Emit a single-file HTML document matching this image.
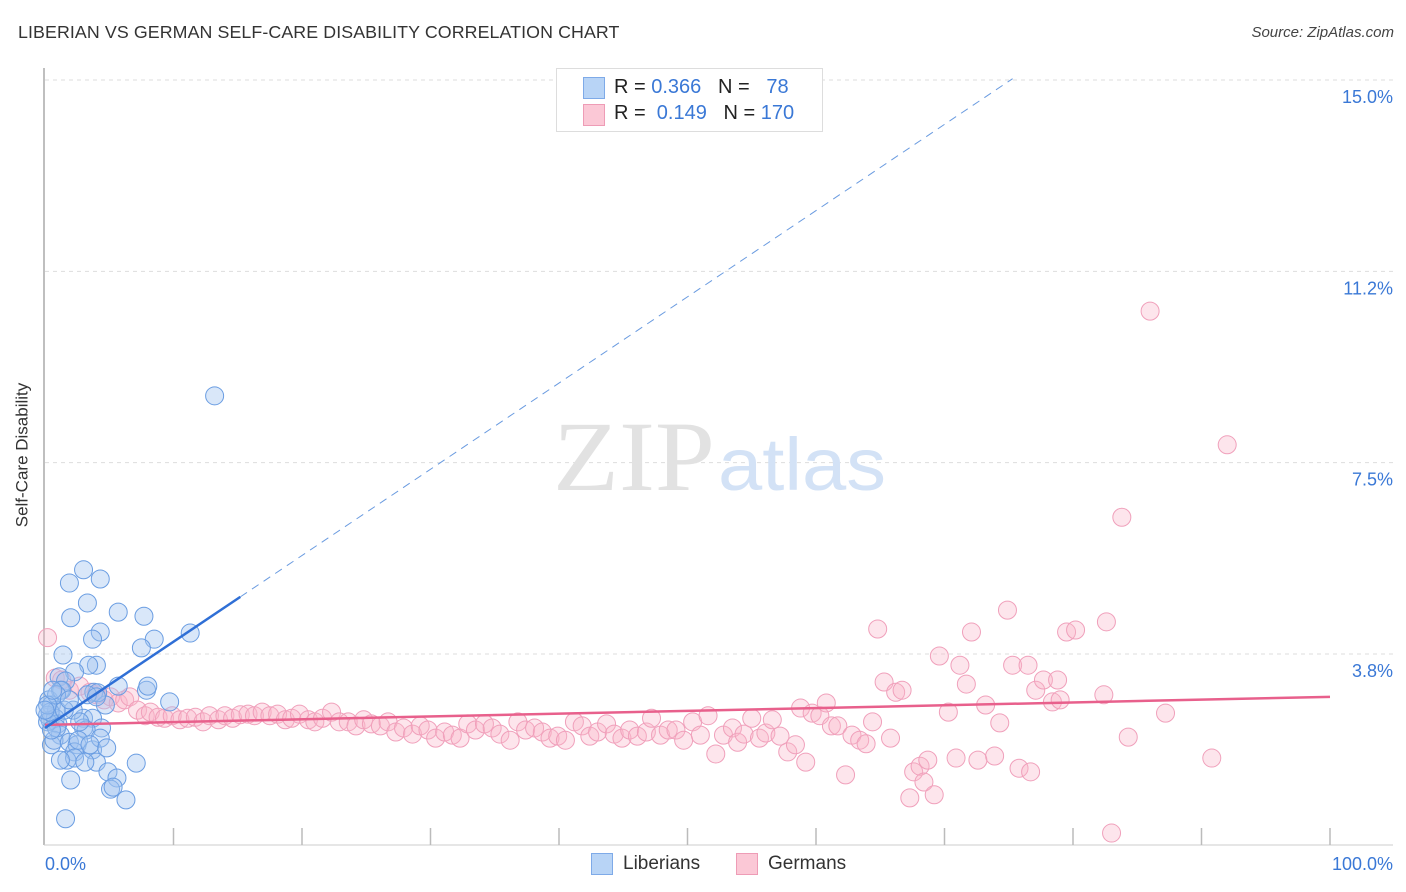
<!DOCTYPE html>
<html><head><meta charset="utf-8"><style>
body{margin:0;background:#fff;font-family:"Liberation Sans",sans-serif;}
#wrap{position:relative;width:1406px;height:892px;overflow:hidden;}
.t{position:absolute;white-space:nowrap;}
</style></head><body>
<div id="wrap">
<div class="t" style="left:18px;top:22px;font-size:17.8px;color:#333;letter-spacing:0.1px">LIBERIAN VS GERMAN SELF-CARE DISABILITY CORRELATION CHART</div>
<div class="t" style="right:12px;top:24px;font-size:15px;color:#444;font-style:italic">Source: ZipAtlas.com</div>
<div class="t" style="left:-50px;top:445px;font-size:17px;color:#333;transform:rotate(-90deg)">Self-Care Disability</div>
<svg id="chart" width="1406" height="892" style="position:absolute;left:0;top:0"></svg>
<div style="position:absolute;left:556px;top:68px;width:265px;height:62px;border:1px solid #ddd;background:#fff;font-size:20px;color:#222">
 <div style="position:absolute;left:26px;top:8px;width:20px;height:20px;background:#b8d4f6;border:1px solid #7eaae8"></div>
 <div class="t" style="left:57px;top:7px">R = <span style="color:#3a78d6">0.366</span>&nbsp;&nbsp;&nbsp;N = &nbsp;&nbsp;<span style="color:#3a78d6">78</span></div>
 <div style="position:absolute;left:26px;top:35px;width:20px;height:20px;background:#fbc8d6;border:1px solid #ee9cb6"></div>
 <div class="t" style="left:57px;top:33px">R = &nbsp;<span style="color:#3a78d6">0.149</span>&nbsp;&nbsp;&nbsp;N = <span style="color:#3a78d6">170</span></div>
</div>
<div>
 <div style="position:absolute;left:591px;top:853px;width:20px;height:20px;background:#b8d4f6;border:1px solid #7eaae8"></div>
 <div class="t" style="left:623px;top:853px;font-size:19px;color:#333">Liberians</div>
 <div style="position:absolute;left:736px;top:853px;width:20px;height:20px;background:#fbc8d6;border:1px solid #ee9cb6"></div>
 <div class="t" style="left:768px;top:853px;font-size:19px;color:#333">Germans</div>
</div>
</div>
<script>
const yTicks=[3.75,7.5,11.25,15];
const yTickLabels=["3.8%","7.5%","11.2%","15.0%"];
const xTickLabels=["0.0%","100.0%"];
const blueX=[13.2,3.0,1.9,4.3,3.3,5.7,7.7,2.0,4.3,11.3,8.5,3.7,7.5,1.4,4.0,3.4,2.3,1.1,1.6,5.7,7.9,8.0,9.7,1.2,3.8,4.7,0.3,0.5,0.9,0.2,0.4,0.8,1.0,3.0,2.2,3.7,4.4,3.0,3.2,1.2,0.5,0.7,1.9,2.5,3.7,2.3,4.3,1.7,2.3,4.0,3.1,7.1,4.9,5.6,2.0,5.1,5.3,6.3,1.6,0.2,0.4,0.9,1.3,0.9,4.1,3.3,4.0,0.2,1.5,0.5,2.6,1.9,2.7,3.5,1.2,4.8,0.0,0.6];
const blueY=[8.81,5.40,5.14,5.22,4.75,4.57,4.49,4.46,4.18,4.16,4.04,4.04,3.87,3.73,3.53,3.53,3.40,3.30,3.22,3.12,3.04,3.12,2.81,3.04,3.00,2.75,2.85,2.75,2.65,2.55,2.45,2.49,2.38,2.49,2.65,2.49,2.30,2.30,2.26,2.16,1.97,2.06,2.02,1.97,1.87,1.83,2.10,1.67,1.71,1.63,1.63,1.61,1.44,1.32,1.28,1.10,1.14,0.89,0.52,2.42,2.61,2.30,3.04,2.95,2.99,2.95,2.91,2.75,2.65,2.26,2.06,2.85,2.42,1.97,1.67,1.91,2.65,3.04];
const pinkX=[0.2,0.8,1.3,1.9,2.7,3.5,4.0,4.6,5.1,5.7,6.2,6.6,7.2,7.8,8.2,8.8,9.3,9.9,10.5,11.1,11.7,12.3,12.8,13.5,14.0,14.6,15.2,15.8,16.3,16.9,17.5,18.1,18.7,19.2,19.8,20.5,21.0,21.6,22.3,22.9,23.6,24.2,24.8,25.4,26.1,26.7,27.3,27.9,28.6,29.2,29.8,30.4,31.1,31.7,32.3,32.9,33.5,34.2,34.8,35.4,36.2,36.8,37.4,38.1,38.7,39.3,39.9,40.5,41.2,41.8,42.4,43.0,43.7,44.3,44.9,45.5,46.1,46.8,47.2,47.9,48.5,49.1,49.7,50.4,51.0,51.6,52.2,52.8,53.5,53.9,54.4,55.0,55.6,56.1,56.6,57.2,57.8,58.4,58.8,59.2,59.7,60.3,60.8,61.2,61.7,62.3,62.8,63.4,63.9,64.4,64.8,65.3,65.8,66.2,66.7,67.3,67.6,68.1,68.4,68.7,69.2,69.6,70.3,70.9,71.2,71.7,72.1,72.6,73.2,73.9,74.3,74.9,75.3,76.5,77.1,77.7,78.4,78.8,79.5,80.2,79.0,75.8,76.7,82.6,82.4,83.0,83.8,84.3,86.0,87.2,90.8,92.0];
const pinkY=[4.07,3.28,3.24,3.04,3.12,3.00,2.95,2.85,2.91,2.79,2.85,2.91,2.65,2.54,2.61,2.51,2.49,2.54,2.46,2.49,2.51,2.42,2.54,2.46,2.54,2.49,2.56,2.57,2.54,2.61,2.54,2.57,2.46,2.49,2.57,2.46,2.42,2.49,2.61,2.42,2.42,2.34,2.46,2.38,2.34,2.42,2.22,2.30,2.18,2.34,2.26,2.10,2.22,2.16,2.10,2.38,2.26,2.38,2.30,2.18,2.06,2.42,2.26,2.30,2.22,2.10,2.14,2.06,2.42,2.34,2.14,2.22,2.38,2.18,2.10,2.26,2.14,2.22,2.49,2.16,2.26,2.26,2.06,2.42,2.16,2.54,1.79,2.16,2.30,2.02,2.18,2.49,2.10,2.20,2.46,2.14,1.83,1.97,2.69,1.63,2.59,2.54,2.79,2.34,2.34,1.38,2.16,2.06,1.99,2.42,4.24,3.20,2.10,3.00,3.04,0.93,1.44,1.55,1.24,1.67,0.99,3.71,2.61,1.71,3.53,3.16,4.18,1.67,2.75,1.75,2.40,4.61,3.53,3.53,3.04,3.24,2.81,3.24,4.18,4.22,2.85,1.51,1.44,4.38,2.95,0.24,6.43,2.12,10.47,2.59,1.71,7.85];
const blueTrend=[2.30,0.169]; // intercept, slope
const blueSolidEnd=15.2, blueDashEnd=75.3;
const pinkTrend=[2.36,0.0055];

const NS="http://www.w3.org/2000/svg";
const svg=document.getElementById('chart');
const X=v=>45+v*12.85;
const Y=v=>845.3-v*51.02;
function mk(t,a){const e=document.createElementNS(NS,t);for(const k in a)e.setAttribute(k,a[k]);svg.appendChild(e);return e;}
yTicks.forEach((v,i)=>{
 const g=mk('line',{x1:45,x2:1393,y1:Y(v),y2:Y(v),stroke:'#ddd','stroke-dasharray':'4,4'});
 
 
 const t=mk('text',{x:1393,y:Y(v)+23,'text-anchor':'end','font-size':18,fill:'#3a78d6','font-family':'Liberation Sans, sans-serif'});
 t.textContent=yTickLabels[i];
 
 
});
const ax=mk('line',{x1:44,x2:44,y1:68,y2:845,stroke:'#aaa','stroke-width':1.5});


const xa=mk('line',{x1:44,x2:1393,y1:845,y2:845,stroke:'#ccc'});


for(let i=1;i<=10;i++){
 const tk=mk('line',{x1:X(i*10),x2:X(i*10),y1:828,y2:845,stroke:'#bbb','stroke-width':1.5});
 
 
}
[[0,'start',45],[100,'end',1393]].forEach((d,i)=>{
 const t=mk('text',{x:d[2],y:870,'text-anchor':d[1],'font-size':18,fill:'#3a78d6','font-family':'Liberation Sans, sans-serif'});
 t.textContent=xTickLabels[i];
 
 
});
const wm=mk('text',{x:553,y:490,'font-size':100,fill:'#e2e2e2','font-family':'Liberation Serif, serif',textLength:162,lengthAdjust:'spacingAndGlyphs'});
wm.textContent='ZIP';


const wm2=mk('text',{x:718,y:490,'font-size':74,fill:'#d3e2f6','font-family':'Liberation Sans, sans-serif',textLength:168,lengthAdjust:'spacingAndGlyphs'});
wm2.textContent='atlas';


pinkX.forEach((x,i)=>{
 const c=mk('circle',{cx:X(x),cy:Y(pinkY[i]),r:9,fill:'rgba(248,180,200,0.35)',stroke:'#f0a0bb','stroke-width':1});
 
 
});
blueX.forEach((x,i)=>{
 const c=mk('circle',{cx:X(x),cy:Y(blueY[i]),r:9,fill:'rgba(160,196,240,0.4)',stroke:'#6a9de2','stroke-width':1});
 
 
});
const pl=mk('line',{x1:X(0),y1:Y(pinkTrend[0]),x2:X(100),y2:Y(pinkTrend[0]+pinkTrend[1]*100),stroke:'#e8608c','stroke-width':2.5});


const bl=mk('line',{x1:X(0),y1:Y(blueTrend[0]),x2:X(blueSolidEnd),y2:Y(blueTrend[0]+blueTrend[1]*blueSolidEnd),stroke:'#2f6fd6','stroke-width':2.5});


const bd=mk('line',{x1:X(blueSolidEnd),y1:Y(blueTrend[0]+blueTrend[1]*blueSolidEnd),x2:X(blueDashEnd),y2:Y(blueTrend[0]+blueTrend[1]*blueDashEnd),stroke:'#6a9be0','stroke-width':1,'stroke-dasharray':'8,6'});


</script>
</body></html>
